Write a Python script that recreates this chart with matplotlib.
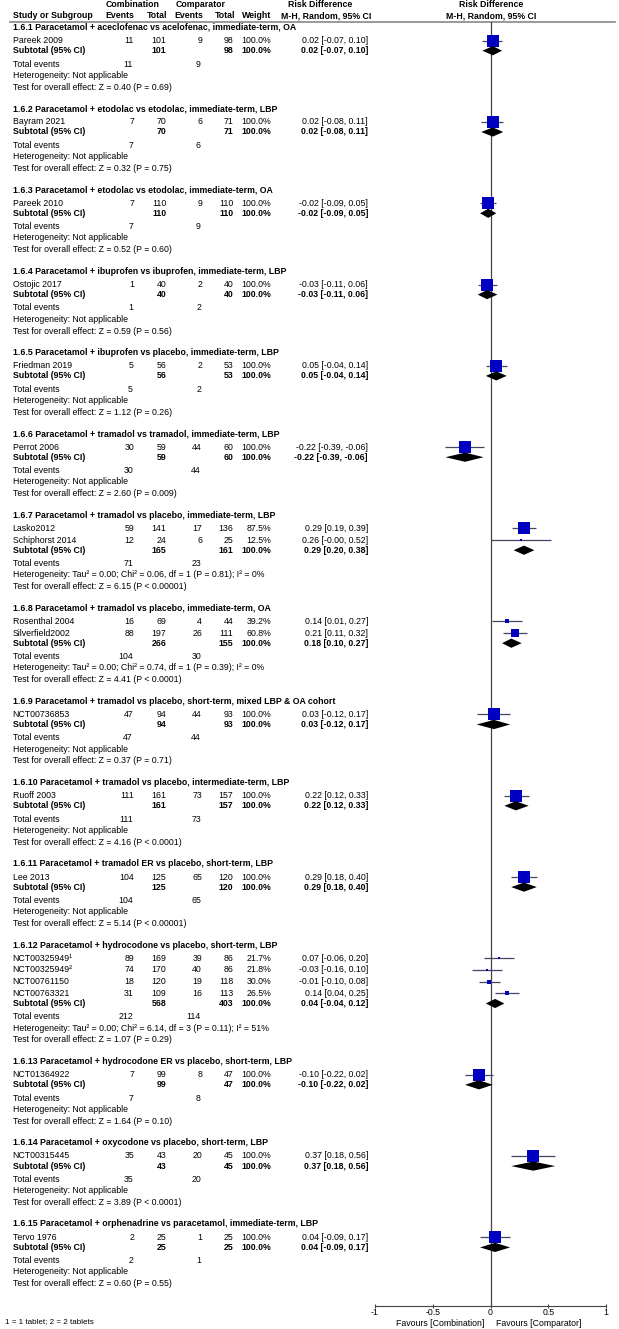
import matplotlib.pyplot as plt

plt.rcParams['font.family'] = ['Liberation Sans', 'DejaVu Sans']
FS = 6.3

# subgroups
subgroups = [
    "1.6.1 Paracetamol + aceclofenac vs acelofenac, immediate-term, OA",
    "1.6.2 Paracetamol + etodolac vs etodolac, immediate-term, LBP",
    "1.6.3 Paracetamol + etodolac vs etodolac, immediate-term, OA",
    "1.6.4 Paracetamol + ibuprofen vs ibuprofen, immediate-term, LBP",
    "1.6.5 Paracetamol + ibuprofen vs placebo, immediate-term, LBP",
    "1.6.6 Paracetamol + tramadol vs tramadol, immediate-term, LBP",
    "1.6.7 Paracetamol + tramadol vs placebo, immediate-term, LBP",
    "1.6.8 Paracetamol + tramadol vs placebo, immediate-term, OA",
    "1.6.9 Paracetamol + tramadol vs placebo, short-term, mixed LBP & OA cohort",
    "1.6.10 Paracetamol + tramadol vs placebo, intermediate-term, LBP",
    "1.6.11 Paracetamol + tramadol ER vs placebo, short-term, LBP",
    "1.6.12 Paracetamol + hydrocodone vs placebo, short-term, LBP",
    "1.6.13 Paracetamol + hydrocodone ER vs placebo, short-term, LBP",
    "1.6.14 Paracetamol + oxycodone vs placebo, short-term, LBP",
    "1.6.15 Paracetamol + orphenadrine vs paracetamol, immediate-term, LBP",
]

# studies
studies = ["Pareek 2009", "Bayram 2021", "Pareek 2010", "Ostojic 2017", "Friedman 2019",
           "Perrot 2006", "Lasko2012", "Schiphorst 2014", "Rosenthal 2004", "Silverfield2002",
           "NCT00736853", "Ruoff 2003", "Lee 2013", "NCT00325949\u00b9", "NCT00325949\u00b2",
           "NCT00761150", "NCT00763321", "NCT01364922", "NCT00315445", "Tervo 1976"]
grp = [0, 1, 2, 3, 4, 5, 6, 6, 7, 7, 8, 9, 10, 11, 11, 11, 11, 12, 13, 14]
ev_comb = [11, 7, 7, 1, 5, 30, 59, 12, 16, 88, 47, 111, 104, 89, 74, 18, 31, 7, 35, 2]
n_comb = [101, 70, 110, 40, 56, 59, 141, 24, 69, 197, 94, 161, 125, 169, 170, 120, 109, 99, 43, 25]
ev_comp = [9, 6, 9, 2, 2, 44, 17, 6, 4, 26, 44, 73, 65, 39, 40, 19, 16, 8, 20, 1]
n_comp = [98, 71, 110, 40, 53, 60, 136, 25, 44, 111, 93, 157, 120, 86, 86, 118, 113, 47, 45, 25]
weight = [100.0, 100.0, 100.0, 100.0, 100.0, 100.0, 87.5, 12.5, 39.2, 60.8, 100.0, 100.0, 100.0,
          21.7, 21.8, 30.0, 26.5, 100.0, 100.0, 100.0]
rd = [0.02, 0.02, -0.02, -0.03, 0.05, -0.22, 0.29, 0.26, 0.14, 0.21, 0.03, 0.22, 0.29,
      0.07, -0.03, -0.01, 0.14, -0.10, 0.37, 0.04]
ci_lo = [-0.07, -0.08, -0.09, -0.11, -0.04, -0.39, 0.19, -0.0, 0.01, 0.11, -0.12, 0.12, 0.18,
         -0.06, -0.16, -0.10, 0.04, -0.22, 0.18, -0.09]
ci_hi = [0.10, 0.11, 0.05, 0.06, 0.14, -0.06, 0.39, 0.52, 0.27, 0.32, 0.17, 0.33, 0.40,
         0.20, 0.10, 0.08, 0.25, 0.02, 0.56, 0.17]

# subtotals
sub_rd = [0.02, 0.02, -0.02, -0.03, 0.05, -0.22, 0.29, 0.18, 0.03, 0.22, 0.29, 0.04, -0.10, 0.37, 0.04]
sub_lo = [-0.07, -0.08, -0.09, -0.11, -0.04, -0.39, 0.20, 0.10, -0.12, 0.12, 0.18, -0.04, -0.22, 0.18, -0.09]
sub_hi = [0.10, 0.11, 0.05, 0.06, 0.14, -0.06, 0.38, 0.27, 0.17, 0.33, 0.40, 0.12, 0.02, 0.56, 0.17]
het = ["Not applicable"] * 15
het[6] = "Tau\u00b2 = 0.00; Chi\u00b2 = 0.06, df = 1 (P = 0.81); I\u00b2 = 0%"
het[7] = "Tau\u00b2 = 0.00; Chi\u00b2 = 0.74, df = 1 (P = 0.39); I\u00b2 = 0%"
het[11] = "Tau\u00b2 = 0.00; Chi\u00b2 = 6.14, df = 3 (P = 0.11); I\u00b2 = 51%"
z_vals = [0.40, 0.32, 0.52, 0.59, 1.12, 2.60, 6.15, 4.41, 0.37, 4.16, 5.14, 1.07, 1.64, 3.89, 0.60]
p_vals = ["P = 0.69", "P = 0.75", "P = 0.60", "P = 0.56", "P = 0.26", "P = 0.009", "P < 0.00001",
          "P < 0.0001", "P = 0.71", "P < 0.0001", "P < 0.00001", "P = 0.29", "P = 0.10",
          "P < 0.0001", "P = 0.55"]

ticks = [-1, -0.5, 0, 0.5, 1]
tick_labels = ["-1", "-0.5", "0", "0.5", "1"]


def ci_text(m, lo, hi):
    return f"{m:.2f} [{lo:.2f}, {hi:.2f}]"


fig = plt.figure(figsize=(6.19, 13.29), dpi=100)
ax = fig.add_axes([0, 0, 1, 1])
ax.set_xlim(0, 619)
ax.set_ylim(1329, 0)
ax.axis('off')


def put(x, y, s, ha='left', bold=False, size=FS):
    ax.text(x, y, s, ha=ha, va='center', fontsize=size,
            fontweight='bold' if bold else 'normal')


top, bottom = 21.5, 1306
fa = fig.add_axes([375 / 619, (1329 - bottom) / 1329, 231 / 619, (bottom - top) / 1329])
fa.set_xlim(-1, 1)
fa.set_ylim(bottom, top)
fa.patch.set_alpha(0)
for s in ['top', 'left', 'right']:
    fa.spines[s].set_visible(False)
fa.spines['bottom'].set_color('#444444')
fa.spines['bottom'].set_linewidth(0.8)
fa.set_yticks([])
fa.set_xticks(ticks)
fa.set_xticklabels(tick_labels)
fa.tick_params(axis='x', direction='inout', length=3, width=0.8, color='#444444',
               labelsize=FS, pad=0)
fa.axvline(0, color='#444444', lw=0.9, zorder=1)
fa.text(-0.05, 1323.5, "Favours [Combination]", ha='right', va='center', fontsize=FS)
fa.text(0.05, 1323.5, "Favours [Comparator]", ha='left', va='center', fontsize=FS)

# column headers
put(133, 4.5, "Combination", 'center', True)
put(201, 4.5, "Comparator", 'center', True)
put(320, 4.5, "Risk Difference", 'center', True)
put(491, 4.5, "Risk Difference", 'center', True)
put(12.7, 15.7, "Study or Subgroup", bold=True)
put(134, 15.7, "Events", 'right', True)
put(167, 15.7, "Total", 'right', True)
put(203, 15.7, "Events", 'right', True)
put(235, 15.7, "Total", 'right', True)
put(271, 15.7, "Weight", 'right', True)
put(326, 15.7, "M-H, Random, 95% CI", 'center', True)
put(491, 15.7, "M-H, Random, 95% CI", 'center', True)
ax.axhline(top, xmin=10 / 619, xmax=615 / 619, color='#888888', lw=1.2)

y = 27.3
for g, title in enumerate(subgroups):
    put(12.7, y, title, bold=True)
    idx = [i for i, gg in enumerate(grp) if gg == g]
    y += 13.3
    for k, i in enumerate(idx):
        if k:
            y += 11.7
        put(12.7, y, studies[i])
        put(134, y, str(ev_comb[i]), 'right')
        put(166.5, y, str(n_comb[i]), 'right')
        put(202, y, str(ev_comp[i]), 'right')
        put(233.5, y, str(n_comp[i]), 'right')
        put(271, y, f"{weight[i]:.1f}%", 'right')
        put(368, y, ci_text(rd[i], ci_lo[i], ci_hi[i]), 'right')
        fa.hlines(y, ci_lo[i], ci_hi[i], color='#444466', lw=0.9, zorder=2)
        side = max(12.7 * weight[i] / 100, 2.0)
        fa.plot(rd[i], y, 's', ms=side * 0.72, color='#0000c0', mew=0, zorder=3)
    y += 10.1
    put(12.7, y, "Subtotal (95% CI)", bold=True)
    put(166.5, y, str(sum(n_comb[i] for i in idx)), 'right', True)
    put(233.5, y, str(sum(n_comp[i] for i in idx)), 'right', True)
    put(271, y, "100.0%", 'right', True)
    put(368, y, ci_text(sub_rd[g], sub_lo[g], sub_hi[g]), 'right', True)
    fa.fill([sub_lo[g], sub_rd[g], sub_hi[g], sub_rd[g]], [y, y - 4.6, y, y + 4.6],
            color='black', lw=0, zorder=3)
    y += 13.4
    put(12.7, y, "Total events")
    put(133, y, str(sum(ev_comb[i] for i in idx)), 'right')
    put(201, y, str(sum(ev_comp[i] for i in idx)), 'right')
    y += 11.2
    put(12.7, y, "Heterogeneity: " + het[g])
    y += 11.8
    put(12.7, y, f"Test for overall effect: Z = {z_vals[g]:.2f} ({p_vals[g]})")
    y += 21.5

put(5, 1322, "1 = 1 tablet; 2 = 2 tablets", size=5.8)

fig.savefig("out.png", dpi=100)
